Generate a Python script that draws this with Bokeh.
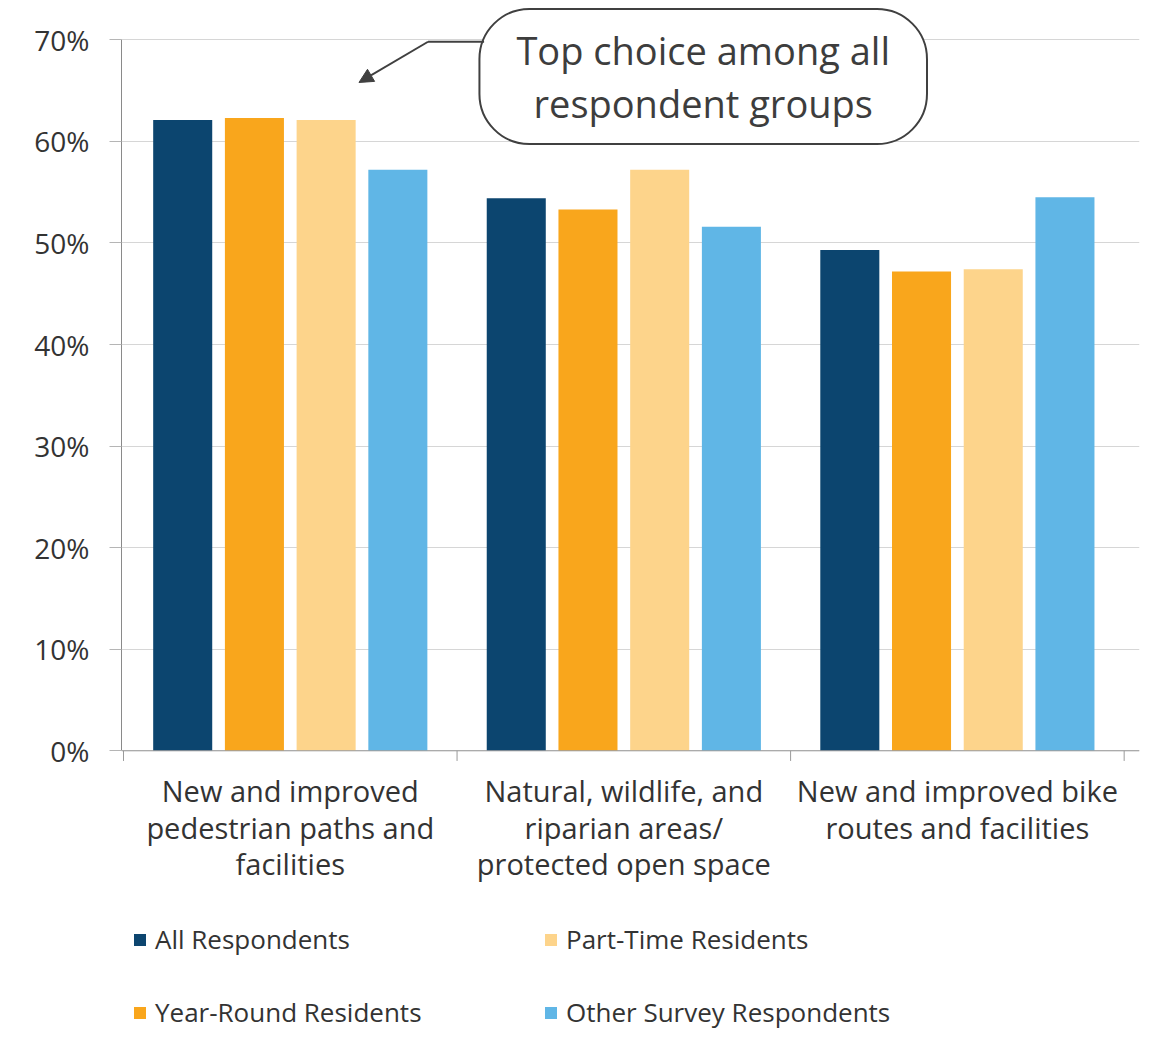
from bokeh.plotting import figure
from bokeh.models import (ColumnDataSource, FixedTicker, PrintfTickFormatter, Range1d,
                          Legend, LegendItem, Label, Arrow, NormalHead)
from bokeh.core.properties import value
from bokeh.transform import dodge
from bokeh.embed import file_html
from bokeh.resources import INLINE

# ---- data ----
categories = ["New and improved\npedestrian paths and\nfacilities",
              "Natural, wildlife, and\nriparian areas/\nprotected open space",
              "New and improved bike\nroutes and facilities"]
series_names = ["All Respondents", "Year-Round Residents", "Part-Time Residents", "Other Survey Respondents"]
all_resp = [62.1, 54.4, 49.3]
year_round = [62.3, 53.3, 47.2]
part_time = [62.1, 57.2, 47.4]
other_resp = [57.2, 51.6, 54.5]
y_ticks = [0, 10, 20, 30, 40, 50, 60, 70]
cat_bounds = [0, 1, 2, 3]

colors = ["#0c456f", "#f9a61c", "#fdd48b", "#60b6e6"]
FONT = "Open Sans"
TXT = "#333333"

xpos = [i + 0.5 for i in range(len(categories))]
src = ColumnDataSource(dict(x=xpos, all=all_resp, yr=year_round, pt=part_time, oth=other_resp))

p = figure(frame_width=1018, frame_height=1029, min_border_left=121, min_border_right=2,
           min_border_top=0, min_border_bottom=0,
           x_range=Range1d(-0.006, 3.046), y_range=Range1d(-27.44, 73.87),
           output_backend="svg", toolbar_location=None)
p.outline_line_color = None
p.background_fill_color = "white"
p.xaxis.visible = False
p.xgrid.grid_line_color = None

width = 0.177
pitch = 0.215
offsets = [-1.5 * pitch, -0.5 * pitch, 0.5 * pitch, 1.5 * pitch]
cols = ["all", "yr", "pt", "oth"]
rends = []
for col, off, c in zip(cols, offsets, colors):
    r = p.vbar(x=dodge("x", off), top=col, width=width, bottom=0, source=src,
               fill_color=c, line_color=None)
    rends.append(r)

# y axis
yax = p.yaxis[0]
yax.ticker = FixedTicker(ticks=y_ticks)
yax.bounds = (0, 70)
yax.formatter = PrintfTickFormatter(format="%d%%")
yax.major_label_text_font = FONT
yax.major_label_text_font_size = "28px"
yax.major_label_text_color = TXT
yax.axis_line_color = "#8a8a8a"
yax.major_tick_line_color = "#b5b5b5"
yax.major_tick_out = 12
yax.major_tick_in = 0
yax.minor_tick_line_color = None
yax.major_label_standoff = 20

p.ygrid.ticker = FixedTicker(ticks=y_ticks)
p.ygrid.grid_line_color = "#d6d6d6"

# category baseline, separators and labels
p.segment(x0=[-0.006], y0=[0], x1=[3.046], y1=[0], line_color="#9a9a9a", line_width=1)
p.segment(x0=cat_bounds, y0=[0] * 4, x1=cat_bounds, y1=[-1.0] * 4, line_color="#9a9a9a", line_width=1)
p.text(x=xpos, y=[-2.0] * 3, text=categories, text_align="center", text_baseline="top",
       text_font=value(FONT), text_font_size="29px", text_color=TXT, text_line_height=0.94)

# legend
items = [LegendItem(label=n, renderers=[r]) for n, r in zip(series_names, rends)]
legend = Legend(items=items, nrows=2, location=(11, -1),
                glyph_width=15, glyph_height=15, label_standoff=8,
                label_width=351, label_height=26, spacing=37, padding=0, margin=0,
                label_text_font=FONT, label_text_font_size="26px", label_text_color=TXT,
                background_fill_alpha=0, border_line_color=None)
p.add_layout(legend)

# callout  (padding order: left, right, top, bottom)
callout = Label(x=1.738, y=66.39, text="Top choice among all\nrespondent groups",
                text_align="center", text_baseline="middle",
                text_font=FONT, text_font_size="38px", text_color="#3d3d3d",
                text_line_height=1.02,
                padding=(37, 37, 15, 15), border_radius=50,
                border_line_color="#404040", border_line_width=2,
                background_fill_color="white")
p.add_layout(callout)

p.add_layout(Arrow(end=None, x_start=1.081, y_start=69.81, x_end=0.913, y_end=69.81,
                   line_color="#404040", line_width=2))
p.add_layout(Arrow(end=NormalHead(size=14, fill_color="#404040", line_color="#404040"),
                   x_start=0.913, y_start=69.81, x_end=0.706, y_end=65.8,
                   line_color="#404040", line_width=2))

open("out.html", "w").write(file_html(p, INLINE))
